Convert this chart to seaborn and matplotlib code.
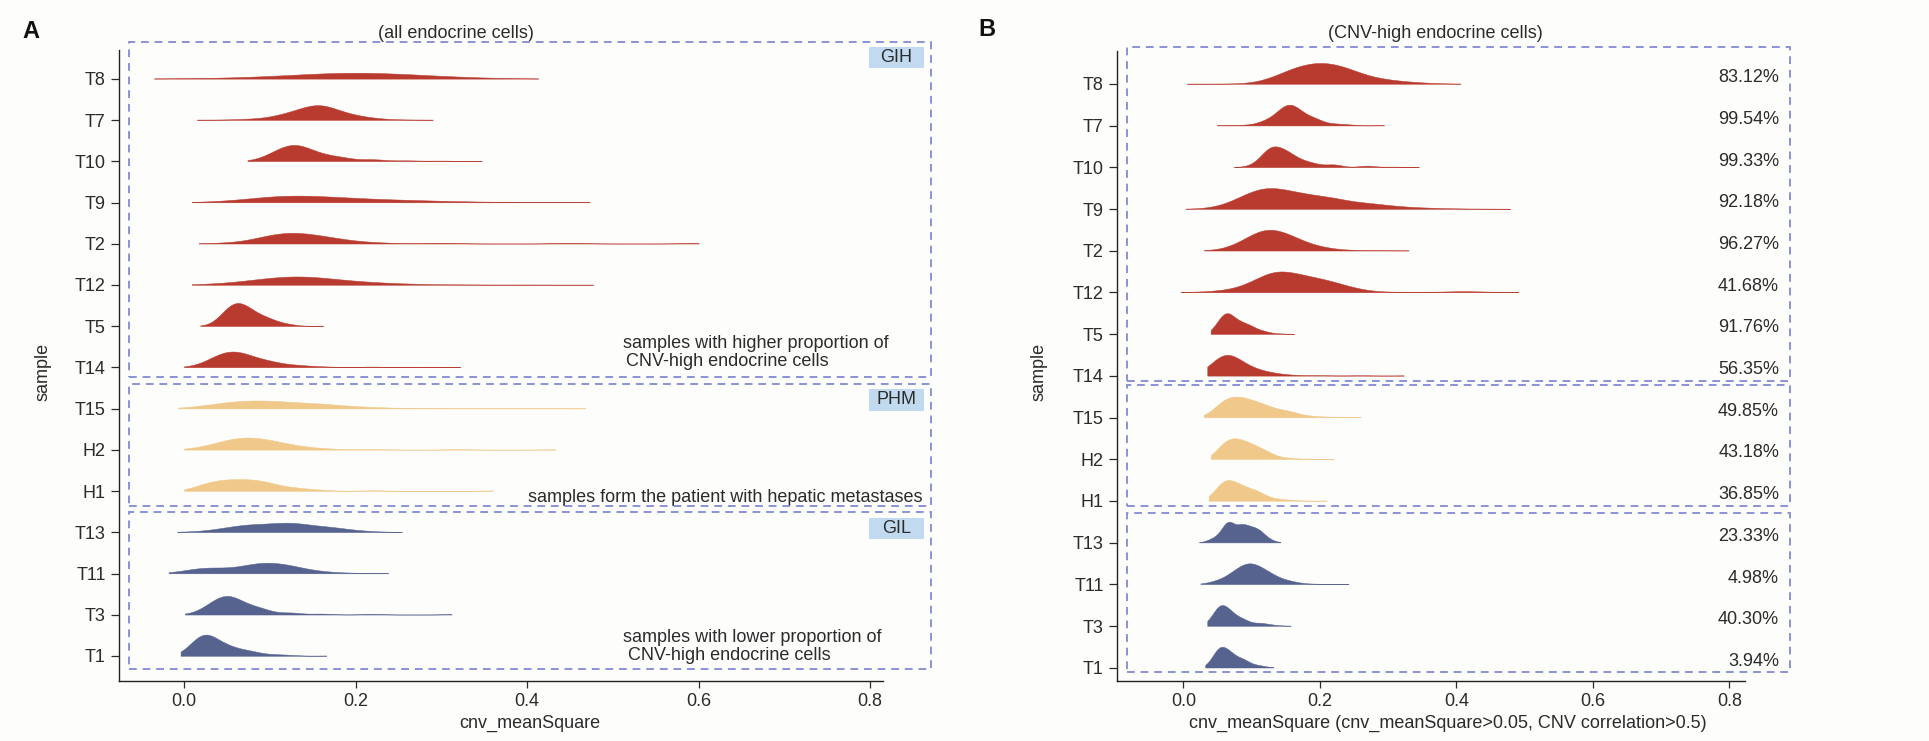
import numpy as np
import matplotlib
matplotlib.use("Agg")
import matplotlib.pyplot as plt
from matplotlib.patches import Rectangle
import seaborn as sns

# samples from top to bottom, with their group
samples = ["T8", "T7", "T10", "T9", "T2", "T12", "T5", "T14",
           "T15", "H2", "H1", "T13", "T11", "T3", "T1"]
groups = ["GIH"] * 8 + ["PHM"] * 3 + ["GIL"] * 4
group_colors = {"GIH": "#B93B2F", "PHM": "#F0C98A", "GIL": "#57638F"}
pct_labels = ["83.12%", "99.54%", "99.33%", "92.18%", "96.27%", "41.68%", "91.76%", "56.35%",
              "49.85%", "43.18%", "36.85%", "23.33%", "4.98%", "40.30%", "3.94%"]

# panel A (all endocrine cells): binned cnv_meanSquare values and relative counts
a_x = {
    "T8": [-0.035, -0.01, 0.03, 0.08, 0.12, 0.16, 0.2, 0.24, 0.28, 0.32, 0.36, 0.38, 0.413],
    "T7": [0.015, 0.05, 0.08, 0.11, 0.13, 0.145, 0.157, 0.17, 0.19, 0.21, 0.23, 0.26, 0.29],
    "T10": [0.074, 0.088, 0.1, 0.115, 0.132, 0.15, 0.167, 0.185, 0.22, 0.26, 0.3, 0.347],
    "T9": [0.009, 0.04, 0.07, 0.1, 0.128, 0.16, 0.2, 0.25, 0.3, 0.355, 0.42, 0.473],
    "T2": [0.017, 0.045, 0.065, 0.09, 0.105, 0.126, 0.15, 0.175, 0.2, 0.23, 0.3, 0.45, 0.6],
    "T12": [0.009, 0.038, 0.065, 0.1, 0.139, 0.18, 0.22, 0.26, 0.32, 0.4, 0.477],
    "T5": [0.019, 0.034, 0.045, 0.055, 0.062, 0.07, 0.08, 0.095, 0.11, 0.125, 0.162],
    "T14": [0.0, 0.02, 0.03, 0.04, 0.053, 0.065, 0.078, 0.1, 0.13, 0.16, 0.22, 0.322],
    "T15": [-0.007, 0.011, 0.027, 0.042, 0.065, 0.085, 0.115, 0.15, 0.18, 0.22, 0.28, 0.35, 0.41, 0.468],
    "H2": [0.0, 0.013, 0.026, 0.05, 0.073, 0.096, 0.12, 0.143, 0.166, 0.22, 0.32, 0.433],
    "H1": [0.0, 0.012, 0.02, 0.03, 0.05, 0.073, 0.096, 0.124, 0.143, 0.16, 0.22, 0.36],
    "T13": [-0.008, 0.019, 0.046, 0.065, 0.085, 0.112, 0.135, 0.162, 0.182, 0.2, 0.22, 0.254],
    "T11": [-0.018, -0.002, 0.019, 0.035, 0.05, 0.077, 0.1, 0.124, 0.15, 0.175, 0.2, 0.238],
    "T3": [0.001, 0.012, 0.026, 0.038, 0.048, 0.06, 0.077, 0.093, 0.124, 0.16, 0.22, 0.312],
    "T1": [-0.004, 0.003, 0.011, 0.022, 0.034, 0.05, 0.065, 0.08, 0.104, 0.124, 0.166],
}
a_h = {
    "T8": [0.2, 0.4, 0.8, 1.8, 3.5, 5.8, 6.7, 5.8, 3.8, 2.0, 0.8, 0.4, 0.2],
    "T7": [0.2, 0.3, 1.0, 3.5, 7.5, 11.5, 14, 11, 5.5, 2.5, 0.8, 0.3, 0.2],
    "T10": [0.2, 0.8, 6, 12.5, 15.7, 8.5, 4.3, 2.8, 1.3, 0.5, 0.3, 0.2],
    "T9": [0.2, 0.5, 2.8, 6.0, 7.3, 5.6, 4.0, 2.5, 1.3, 0.5, 0.2, 0.15],
    "T2": [0.2, 0.5, 1.7, 5, 8.5, 10.7, 8.3, 5, 2, 0.6, 0.25, 0.15, 0.15],
    "T12": [0.2, 0.6, 2.3, 6.5, 8.7, 4.2, 2.0, 0.7, 0.3, 0.2, 0.15],
    "T5": [0.2, 1.0, 12, 20, 23.3, 18, 13.5, 8.5, 3.5, 0.8, 0.2],
    "T14": [0.2, 0.8, 6.5, 13, 17.3, 13.3, 9, 5.3, 2, 0.5, 0.25, 0.15],
    "T15": [0.15, 0.6, 3, 5.3, 6.7, 7.3, 6.3, 4.7, 2.7, 1.0, 0.3, 0.15, 0.2, 0.1],
    "H2": [0.15, 0.7, 3.7, 8.7, 11, 9, 5, 2, 0.7, 0.25, 0.15, 0.1],
    "H1": [0.15, 1, 5, 9.3, 10, 10, 7.7, 3.3, 1.5, 0.5, 0.2, 0.1],
    "T13": [0.15, 0.8, 3, 5, 6.3, 7.3, 6.7, 4.7, 3, 1.3, 0.5, 0.15],
    "T11": [0.15, 1.5, 6, 4, 3.3, 7.5, 9.3, 6.7, 2.3, 0.8, 0.3, 0.15],
    "T3": [0.15, 1, 7.3, 14.7, 18.3, 15.7, 8, 4, 1.5, 0.5, 0.2, 0.1],
    "T1": [0.15, 2, 14.3, 22.7, 16, 9.3, 5, 3.7, 1.3, 0.5, 0.15],
}

# panel B (CNV-high endocrine cells)
b_x = {
    "T8": [0.005, 0.06, 0.113, 0.142, 0.171, 0.205, 0.24, 0.279, 0.31, 0.338, 0.37, 0.406],
    "T7": [0.049, 0.089, 0.113, 0.127, 0.142, 0.154, 0.166, 0.181, 0.196, 0.22, 0.24, 0.294],
    "T10": [0.074, 0.098, 0.113, 0.122, 0.131, 0.147, 0.162, 0.176, 0.191, 0.22, 0.269, 0.308, 0.345],
    "T9": [0.003, 0.04, 0.064, 0.089, 0.11, 0.125, 0.145, 0.171, 0.2, 0.23, 0.27, 0.308, 0.347, 0.381, 0.43, 0.479],
    "T2": [0.03, 0.054, 0.079, 0.103, 0.125, 0.147, 0.171, 0.196, 0.21, 0.24, 0.29, 0.33],
    "T12": [-0.004, 0.03, 0.064, 0.098, 0.122, 0.142, 0.171, 0.2, 0.22, 0.24, 0.26, 0.308, 0.357, 0.39, 0.411, 0.44, 0.491],
    "T5": [0.04, 0.045, 0.052, 0.062, 0.071, 0.084, 0.098, 0.113, 0.123, 0.14, 0.162],
    "T14": [0.035, 0.045, 0.057, 0.069, 0.079, 0.103, 0.127, 0.152, 0.2, 0.26, 0.323],
    "T15": [0.03, 0.042, 0.052, 0.064, 0.078, 0.093, 0.11, 0.127, 0.145, 0.162, 0.191, 0.22, 0.26],
    "H2": [0.04, 0.049, 0.059, 0.074, 0.089, 0.103, 0.115, 0.127, 0.15, 0.18, 0.22],
    "H1": [0.037, 0.047, 0.057, 0.069, 0.084, 0.1, 0.113, 0.137, 0.162, 0.21],
    "T13": [0.023, 0.035, 0.045, 0.059, 0.069, 0.084, 0.095, 0.105, 0.113, 0.122, 0.133, 0.142],
    "T11": [0.025, 0.04, 0.054, 0.074, 0.088, 0.098, 0.11, 0.127, 0.15, 0.171, 0.2, 0.242],
    "T3": [0.035, 0.045, 0.054, 0.064, 0.074, 0.089, 0.113, 0.132, 0.157],
    "T1": [0.032, 0.045, 0.054, 0.064, 0.074, 0.089, 0.108, 0.122, 0.132],
}
b_h = {
    "T8": [0.3, 0.4, 1, 20, 43, 50, 35, 12, 7, 3, 1, 0.3],
    "T7": [0.3, 1, 6, 15, 35, 52, 40, 20, 13, 4, 1.5, 0.3],
    "T10": [0.3, 2, 15, 35, 52, 40, 22, 12, 7, 4, 2, 0.8, 0.3],
    "T9": [0.3, 1, 10, 35, 49, 52, 47, 37, 30, 22, 14, 7, 3, 1.5, 0.6, 0.3],
    "T2": [0.3, 2, 15, 40, 52, 42, 25, 10, 5, 1.5, 0.5, 0.3],
    "T12": [0.3, 1.5, 5, 18, 40, 52, 40, 30, 23, 12, 4, 1, 0.5, 1.5, 3, 1.2, 0.3],
    "T5": [0.3, 5, 35, 52, 35, 25, 18, 8, 3, 1, 0.3],
    "T14": [0.3, 15, 52, 30, 20, 10, 4, 1, 0.4, 0.3, 0.2],
    "T15": [0.3, 8, 35, 50, 48, 44, 35, 24, 16, 11, 3, 1, 0.3],
    "H2": [0.3, 12, 48, 51, 42, 33, 22, 12, 3, 0.8, 0.3],
    "H1": [0.3, 15, 52, 42, 33, 22, 15, 4, 1, 0.3],
    "T13": [0.3, 3, 12, 35, 50, 42, 37, 35, 28, 12, 3, 0.3],
    "T11": [0.3, 3, 12, 30, 45, 51, 42, 25, 10, 2, 0.6, 0.3],
    "T3": [0.3, 20, 52, 30, 18, 10, 5, 1.5, 0.3],
    "T1": [0.3, 20, 52, 32, 22, 15, 5, 1.5, 0.3],
}

W, H = 1929, 741
sns.set_theme(style="ticks")
plt.rcParams["font.family"] = ["Liberation Sans", "DejaVu Sans"]
text_col = "#2B2B2B"
box_col = "#8A93D6"

fig = plt.figure(figsize=(W / 100, H / 100), dpi=100, facecolor="#FDFDFC")


def fx(px):
    return px / W


def fy(py):
    return 1 - py / H


def ridge(ax, x, h, row, color):
    x = np.asarray(x, float)
    w = np.asarray(h, float) * np.gradient(x)
    sd = np.sqrt(np.cov(x, aweights=w))
    sigma = 0.8 * np.median(np.diff(x))
    x0, x1 = ax.get_xlim()
    ins = ax.inset_axes([x0, row, x1 - x0, 1], transform=ax.transData)
    ins.set_xlim(x0, x1)
    sns.kdeplot(x=x, weights=w, bw_method=sigma / sd, cut=0, gridsize=800,
                fill=True, color=color, alpha=1, linewidth=0.35, ax=ins)
    # inner axes carry only the ridge
    ins.set_xlabel("")
    ins.set_ylabel("")
    ins.set_xticks([])
    ins.set_yticks([])
    ins.axis("off")
    ins.patch.set_alpha(0)
    dmax = ins.collections[0].get_paths()[0].vertices[:, 1].max()
    return ins, dmax


def setup_axes(ax, xlim, ylim):
    ax.set_xlim(*xlim)
    ax.set_ylim(*ylim)
    ax.set_facecolor("none")
    ax.set_xticks([0, 0.2, 0.4, 0.6, 0.8])
    ax.set_xticklabels(["0.0", "0.2", "0.4", "0.6", "0.8"])
    ax.set_yticks(range(len(samples)))
    ax.set_yticklabels(samples[::-1])
    ax.tick_params(axis="both", labelsize=13, colors=text_col, length=5, width=0.9)
    ax.tick_params(axis="y", length=6)
    for s in ["top", "right"]:
        ax.spines[s].set_visible(False)
    for s in ["left", "bottom"]:
        ax.spines[s].set_color("#222222")
        ax.spines[s].set_linewidth(1.0)
    ax.set_xlabel("")
    ax.set_ylabel("")


def dashed_box(x0, y0, x1, y1):
    fig.add_artist(Rectangle((fx(x0), fy(y1)), (x1 - x0) / W, (y1 - y0) / H,
                             transform=fig.transFigure, fill=False, ec=box_col,
                             lw=1.4, ls=(0, (4, 3)), zorder=10))


def tag(x0, y0, x1, y1, label):
    fig.add_artist(Rectangle((fx(x0), fy(y1)), (x1 - x0) / W, (y1 - y0) / H,
                             transform=fig.transFigure, fc="#C2DAEF", ec="none", zorder=11))
    fig.text(fx((x0 + x1) / 2), fy((y0 + y1) / 2), label, ha="center", va="center",
             fontsize=13, color=text_col, zorder=12)


# ---- panel A ----
axA = fig.add_axes([fx(119), fy(681), (883 - 119) / W, (681 - 50) / H])
setup_axes(axA, (-0.0758, 0.815), (-0.607, 14.70))
insA = []
for i, s in enumerate(samples):
    insA.append(ridge(axA, a_x[s], a_h[s], len(samples) - 1 - i, group_colors[groups[i]]))
gmax = max(d for _, d in insA)
for ins, _ in insA:
    ins.set_ylim(-0.01 * gmax, gmax / 0.56)

# ---- panel B ----
axB = fig.add_axes([fx(1117), fy(681), (1745 - 1117) / W, (681 - 51) / H])
setup_axes(axB, (-0.0973, 0.823), (-0.319, 14.79))
for i, s in enumerate(samples):
    ins, dmax = ridge(axB, b_x[s], b_h[s], len(samples) - 1 - i, group_colors[groups[i]])
    ins.set_ylim(-0.01 * dmax, dmax / 0.50)
    axB.text(0.873, len(samples) - 1 - i + 0.15, pct_labels[i], ha="right", va="center",
             fontsize=13, color=text_col, clip_on=False)

# group frames
dashed_box(129, 42, 931, 377)
dashed_box(129, 384, 931, 506)
dashed_box(129, 512, 931, 669)
dashed_box(1127, 47, 1790, 381)
dashed_box(1127, 385, 1790, 506)
dashed_box(1127, 513, 1790, 672)
tag(869, 47, 924, 68, "GIH")
tag(869, 389, 924, 411, "PHM")
tag(869, 518, 924, 539, "GIL")

# notes inside panel A
fig.text(fx(623), fy(343), "samples with higher proportion of", ha="left", va="center",
         fontsize=13, color=text_col)
fig.text(fx(626), fy(362), "CNV-high endocrine cells", ha="left", va="center",
         fontsize=13, color=text_col)
fig.text(fx(923), fy(497), "samples form the patient with hepatic metastases", ha="right",
         va="center", fontsize=13, color=text_col)
fig.text(fx(623), fy(638), "samples with lower proportion of", ha="left", va="center",
         fontsize=13, color=text_col)
fig.text(fx(628), fy(656), "CNV-high endocrine cells", ha="left", va="center",
         fontsize=13, color=text_col)

# titles, axis labels, panel letters
fig.text(fx(456), fy(33), "(all endocrine cells)", ha="center", va="center", fontsize=13,
         color=text_col)
fig.text(fx(1435), fy(33), "(CNV-high endocrine cells)", ha="center", va="center",
         fontsize=13, color=text_col)
fig.text(fx(530), fy(723), "cnv_meanSquare", ha="center", va="center", fontsize=13,
         color=text_col)
fig.text(fx(1448), fy(723), "cnv_meanSquare (cnv_meanSquare>0.05, CNV correlation>0.5)",
         ha="center", va="center", fontsize=13, color=text_col)
fig.text(fx(43), fy(372), "sample", rotation=90, ha="center", va="center", fontsize=13,
         color=text_col)
fig.text(fx(1039), fy(372), "sample", rotation=90, ha="center", va="center", fontsize=13,
         color=text_col)
fig.text(fx(31), fy(32), "A", ha="center", va="center", fontsize=17, fontweight="bold",
         color="#111111")
fig.text(fx(987), fy(30), "B", ha="center", va="center", fontsize=17, fontweight="bold",
         color="#111111")

fig.savefig("out.png", dpi=100, facecolor=fig.get_facecolor())
